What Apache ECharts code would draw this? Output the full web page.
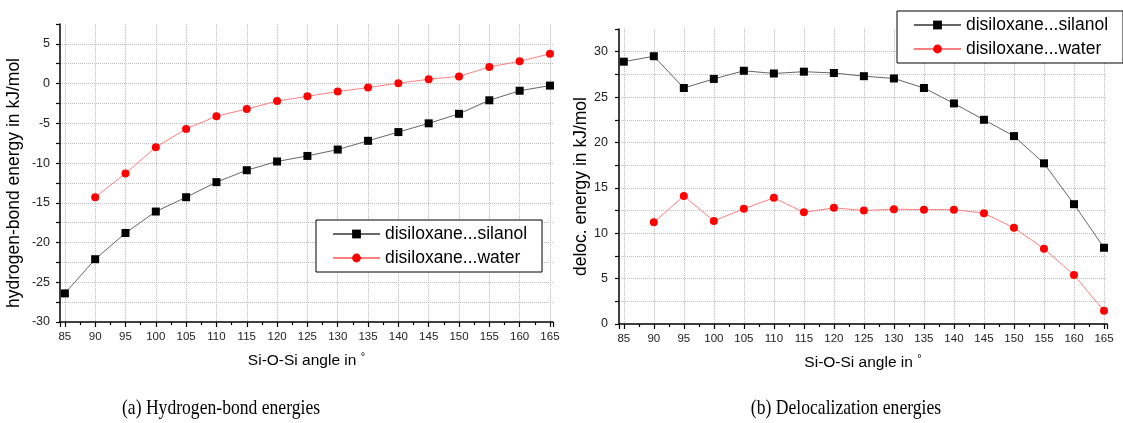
<!DOCTYPE html>
<html>
<head>
<meta charset="utf-8">
<script src="https://cdn.jsdelivr.net/npm/echarts@6.0.0/dist/echarts.min.js"></script>
<style>
  html, body { margin: 0; padding: 0; background: #fff; }
  #chart { width: 1123px; height: 423px; }
</style>
</head>
<body>
<div id="chart"></div>
<script>
// Si-O-Si angle (deg)
const angles = [85, 90, 95, 100, 105, 110, 115, 120, 125, 130, 135, 140, 145, 150, 155, 160, 165]

// (a) hydrogen-bond energies, kJ/mol
const hbSilanol = [-26.4, -22.1, -18.8, -16.1, -14.3, -12.4, -10.9, -9.8, -9.1, -8.3, -7.2, -6.1, -5.0, -3.8, -2.1, -0.9, -0.25]
const hbWater = [null, -14.3, -11.3, -8.0, -5.7, -4.1, -3.2, -2.2, -1.6, -1.0, -0.5, 0.05, 0.55, 0.9, 2.1, 2.8, 3.75]

// (b) delocalization energies, kJ/mol
const delocSilanol = [28.9, 29.5, 26.0, 27.0, 27.9, 27.6, 27.8, 27.65, 27.3, 27.05, 26.0, 24.3, 22.5, 20.7, 17.7, 13.2, 8.4]
const delocWater = [null, 11.2, 14.1, 11.35, 12.7, 13.9, 12.3, 12.8, 12.5, 12.65, 12.6, 12.6, 12.2, 10.6, 8.3, 5.4, 1.45]

const seriesNames = ['disiloxane...silanol', 'disiloxane...water']
const captions = ['(a) Hydrogen-bond energies', '(b) Delocalization energies']
const xTitle = 'Si-O-Si angle in {sup|°}'
const yTitles = ['hydrogen-bond energy in kJ/mol', 'deloc. energy in kJ/mol']

const SANS = "'Liberation Sans', Arial, sans-serif"

function pairs(ys) {
  return angles.map((a, i) => [a, ys[i]]).filter(p => p[1] !== null)
}

// only every second tick (multiples of 5) gets a label
function every5(v) {
  return Math.abs(v % 5) < 1e-6 ? String(v) : ''
}

function xAxis(gridIndex) {
  return {
    type: 'value',
    gridIndex: gridIndex,
    min: 84.2,
    max: 165.5,
    splitNumber: 16,
    minInterval: 5,
    maxInterval: 5,
    name: xTitle,
    nameLocation: 'middle',
    nameGap: 29,
    nameTextStyle: {
      fontFamily: SANS, fontSize: 15.5, color: '#000',
      rich: { sup: { fontFamily: SANS, fontSize: 11, color: '#000', padding: [0, 0, 9, 0] } }
    },
    axisLine: { onZero: false, lineStyle: { color: '#000', width: 1.5 } },
    axisTick: { inside: false, length: 5, lineStyle: { color: '#000', width: 1.2 } },
    minorTick: { show: true, splitNumber: 2, length: 3, lineStyle: { color: '#000', width: 1.2 } },
    axisLabel: { margin: 9, fontFamily: SANS, fontSize: 11.5, color: '#222', formatter: every5 },
    splitLine: { show: true, showMinLine: false, showMaxLine: false, lineStyle: { color: '#bdbdbd', type: 'dotted', width: 1 } }
  }
}

function yAxis(gridIndex, min, max, nameGap, labelMargin) {
  return {
    type: 'value',
    gridIndex: gridIndex,
    min: min,
    max: max,
    interval: 2.5,
    name: yTitles[gridIndex],
    nameLocation: 'middle',
    nameGap: nameGap,
    nameTextStyle: { fontFamily: SANS, fontSize: 17.5, color: '#000', padding: [0, 20, 0, 0] },
    axisLine: { onZero: false, lineStyle: { color: '#000', width: 1.5 } },
    axisTick: { inside: false, length: 4, lineStyle: { color: '#000', width: 1.2 } },
    axisLabel: { margin: labelMargin, fontFamily: SANS, fontSize: 12.5, color: '#222', formatter: every5 },
    splitLine: { show: true, showMinLine: false, showMaxLine: false, lineStyle: { color: '#bdbdbd', type: 'dotted', width: 1 } }
  }
}

function silanolSeries(idx, ys) {
  return {
    name: seriesNames[0],
    type: 'line',
    xAxisIndex: idx,
    yAxisIndex: idx,
    data: pairs(ys),
    symbol: 'rect',
    symbolSize: 8,
    itemStyle: { color: '#000' },
    lineStyle: { color: '#666', width: 1 },
    z: 3
  }
}

function waterSeries(idx, ys) {
  return {
    name: seriesNames[1],
    type: 'line',
    xAxisIndex: idx,
    yAxisIndex: idx,
    data: pairs(ys),
    symbol: 'circle',
    symbolSize: 8,
    itemStyle: { color: '#ff0000' },
    lineStyle: { color: '#ff7f7f', width: 1 },
    z: 4
  }
}

function legend(left, top) {
  return {
    data: seriesNames,
    orient: 'vertical',
    left: left,
    top: top,
    backgroundColor: '#fff',
    borderColor: '#000',
    borderWidth: 1,
    borderRadius: 0,
    padding: [5, 15, 5, 16],
    itemGap: 6,
    itemWidth: 47,
    itemHeight: 11,
    textStyle: { fontFamily: SANS, fontSize: 17.5, color: '#000' }
  }
}

function caption(text, x) {
  return {
    type: 'text',
    x: x,
    y: 408,
    scaleX: 0.8,
    style: {
      text: text,
      font: "22px 'Liberation Serif', 'DejaVu Serif', serif",
      fill: '#000',
      textAlign: 'center',
      textVerticalAlign: 'middle'
    }
  }
}

const chart = echarts.init(document.getElementById('chart'), null, { renderer: 'canvas' })

chart.setOption({
  animation: false,
  backgroundColor: '#fff',
  grid: [
    { left: 60, top: 24, width: 493, height: 298 },
    { left: 619, top: 29, width: 488, height: 295 }
  ],
  xAxis: [xAxis(0), xAxis(1)],
  yAxis: [yAxis(0, -30, 7.5, 37, 10), yAxis(1, 0, 32.5, 29, 11)],
  legend: [legend(316, 220), legend(897, 11)],
  series: [
    silanolSeries(0, hbSilanol),
    waterSeries(0, hbWater),
    silanolSeries(1, delocSilanol),
    waterSeries(1, delocWater)
  ],
  graphic: [caption(captions[0], 221), caption(captions[1], 846)]
})
</script>
</body>
</html>
